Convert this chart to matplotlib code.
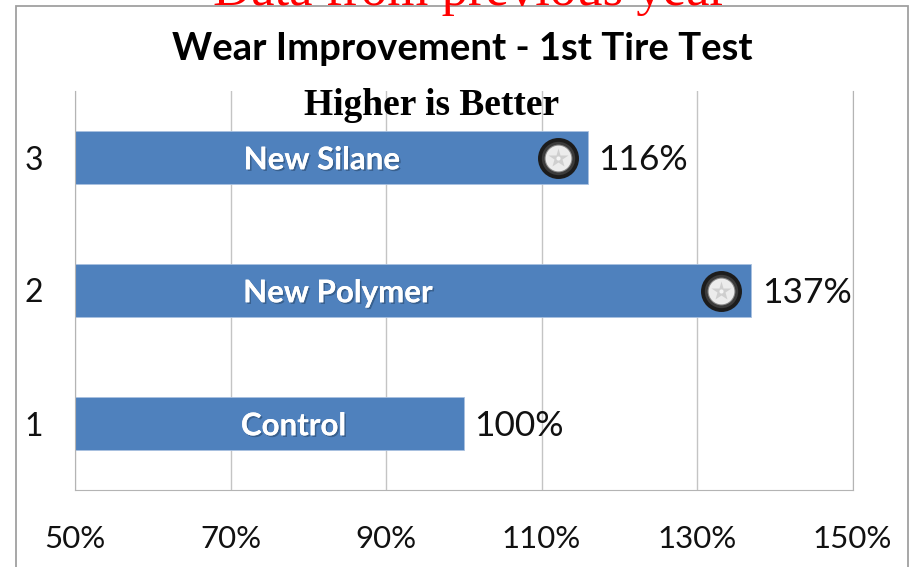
#!/usr/bin/env python3
import matplotlib
matplotlib.use("Agg")
import matplotlib.pyplot as plt
import matplotlib.patheffects as pe
from matplotlib.patches import Rectangle
from matplotlib.transforms import offset_copy

# values
positions = [1, 2, 3]
values = [100, 137, 116]
bar_names = ["Control", "New Polymer", "New Silane"]
value_labels = ["100%", "137%", "116%"]
x_ticks = [50, 70, 90, 110, 130, 150]
x_tick_labels = ["50%", "70%", "90%", "110%", "130%", "150%"]

W, H = 909, 567
SANS = "Lato"
SERIF = "Liberation Serif"

def fx(px): return px / W
def fy(py): return 1 - py / H

fig = plt.figure(figsize=(W / 100, H / 100), dpi=100, facecolor="white")

# outer chart frame
fig.add_artist(Rectangle((fx(15.5), fy(H + 5)), fx(908) - fx(15.5), fy(5.5) - fy(H + 5),
                         transform=fig.transFigure, fill=False, edgecolor="#a0a0a0", linewidth=1.3))

ax = fig.add_axes([fx(75), fy(490), fx(852.5) - fx(75), fy(91) - fy(490)])
ax.set_xlim(50, 150)
ax.set_ylim(0.5, 3.5)
ax.set_axisbelow(True)
ax.xaxis.grid(True, color="#c4c4c4", linewidth=1)
ax.yaxis.grid(False)
ax.spines["top"].set_visible(False)
for side in ["left", "bottom", "right"]:
    ax.spines[side].set_color("#b4b4b4")

ax.barh(positions, [v - 50 for v in values], left=50, height=0.4,
        color="#4f81bd", edgecolor="#a9c1e0", linewidth=0.6)

ax.set_xticks(x_ticks, x_tick_labels)
ax.set_yticks(positions, [str(p) for p in positions])
ax.tick_params(axis="x", length=0, pad=25.5, labelsize=22.5, labelfontfamily=SANS, colors="#111111")
ax.tick_params(axis="y", length=0, pad=23, labelsize=23, labelfontfamily=SANS, colors="#111111")

shadow = [pe.withSimplePatchShadow(offset=(1.2, -1.2), shadow_rgbFace="#2a4a70", alpha=0.6), pe.Normal()]
name_x = [293.5, 338, 322]
for p, name, nx in zip(positions, bar_names, name_x):
    ax.annotate(name, (50 + (nx - 75) / 7.775, p), xytext=(0, -2), textcoords="offset points",
                color="white", fontsize=22.5, fontweight="bold", fontfamily=SANS,
                ha="center", va="center", path_effects=shadow)

for p, v, lab in zip(positions, values, value_labels):
    ax.annotate(lab, (v, p), xytext=(7.5, -1.5), textcoords="offset points", fontsize=25.5,
                fontfamily=SANS, color="#111111", va="center", annotation_clip=False)

# little tire icons at the end of the two new compounds
tire_trans = offset_copy(ax.transData, fig=fig, x=-30, y=0, units="dots")
for p, v in zip(positions[1:], values[1:]):
    ax.plot([v], [p], "o", ms=29.5, mfc="#1c1c1c", mec="none", transform=tire_trans, zorder=3)
    ax.plot([v], [p], "o", ms=24, mfc="#3c3c3c", mec="none", transform=tire_trans, zorder=3)
    ax.plot([v], [p], "o", ms=20, mfc="#8a8a8a", mec="none", transform=tire_trans, zorder=3)
    ax.plot([v], [p], "o", ms=18.5, mfc="#ececec", mec="none", transform=tire_trans, zorder=3)
    ax.plot([v], [p], "*", ms=15, mfc="#cfcfcf", mec="none", transform=tire_trans, zorder=3)
    ax.plot([v], [p], "o", ms=3, mfc="#f5f5f5", mec="none", transform=tire_trans, zorder=3)

fig.text(fx(470), fy(5.5), "Data from previous year", color="red", fontsize=38,
         fontfamily=SERIF, ha="center", va="baseline")
fig.text(fx(462), fy(59.5), "Wear Improvement - 1st Tire Test", color="black", fontsize=27.5,
         fontweight="bold", fontfamily=SANS, ha="center", va="baseline")
fig.text(fx(432), fy(115), "Higher is Better", color="black", fontsize=27,
         fontweight="bold", fontfamily=SERIF, ha="center", va="baseline")

fig.savefig("out.png", dpi=100)
